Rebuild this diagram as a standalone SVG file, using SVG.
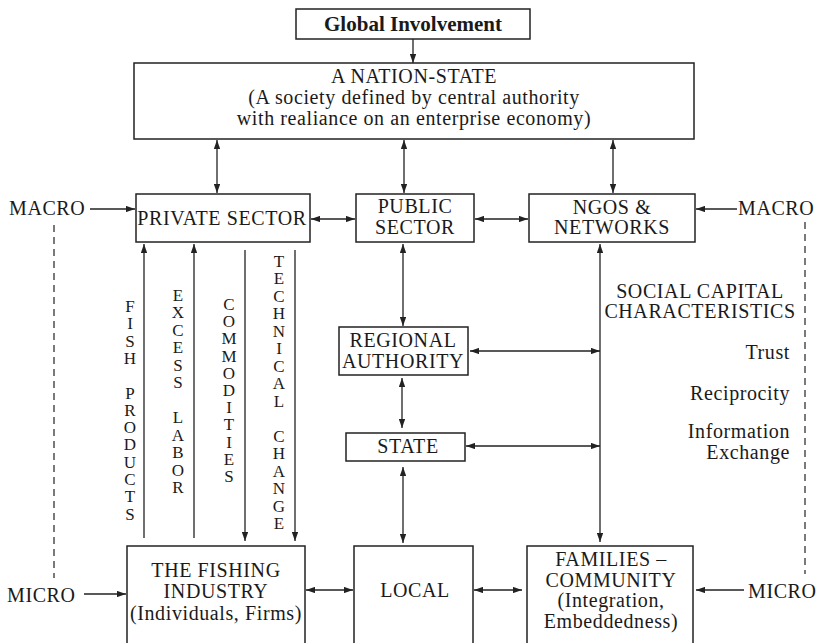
<svg xmlns="http://www.w3.org/2000/svg" width="819" height="643" viewBox="0 0 819 643">
<style>
.box{fill:#fff;stroke:#222;stroke-width:1.5}
.t{font-family:"Liberation Serif","Times New Roman",serif;font-size:20px;letter-spacing:0.6px;fill:#1a1a1a;text-anchor:middle}
.s{font-family:"Liberation Serif","Times New Roman",serif;font-size:20px;letter-spacing:0.6px;fill:#1a1a1a}
.r{text-anchor:end}
.b{font-weight:bold;font-size:21px;letter-spacing:0}
.v{font-family:"Liberation Serif","Times New Roman",serif;font-size:17px;fill:#1a1a1a;text-anchor:middle}
.c{stroke:#222;stroke-width:1.3;fill:none}
.e{marker-end:url(#ah)}
.be{marker-start:url(#ah);marker-end:url(#ah)}
.d{stroke:#222;stroke-width:1.2;stroke-dasharray:7 5;fill:none}
</style>
<defs>
<marker id="ah" viewBox="0 0 10 7" refX="10" refY="3.5" markerWidth="9" markerHeight="6.5" markerUnits="userSpaceOnUse" orient="auto-start-reverse">
<path d="M0,0 L10,3.5 L0,7 z" fill="#222"/>
</marker>
</defs>
<rect width="819" height="643" fill="#fff"/>

<g id="connectors">
<line class="c e" x1="413" y1="39" x2="413" y2="63"/>
<line class="c be" x1="217" y1="140" x2="217" y2="193"/>
<line class="c be" x1="404" y1="140" x2="404" y2="193"/>
<line class="c be" x1="613" y1="140" x2="613" y2="193"/>
<line class="c e" x1="90" y1="209" x2="135" y2="209"/>
<line class="c be" x1="311" y1="219" x2="355" y2="219"/>
<line class="c be" x1="475" y1="219" x2="528" y2="219"/>
<line class="c e" x1="737" y1="209" x2="696" y2="209"/>
<line class="c be" x1="403" y1="244" x2="403" y2="326"/>
<line class="c be" x1="402" y1="378" x2="402" y2="428"/>
<line class="c be" x1="403" y1="467" x2="403" y2="543"/>
<line class="c be" x1="470" y1="351" x2="600" y2="351"/>
<line class="c be" x1="466" y1="446" x2="600" y2="446"/>
<line class="c be" x1="600" y1="244" x2="600" y2="542"/>
<line class="c e" x1="144" y1="538" x2="144" y2="244"/>
<line class="c e" x1="194" y1="538" x2="194" y2="244"/>
<line class="c e" x1="245" y1="250" x2="245" y2="541"/>
<line class="c e" x1="295" y1="250" x2="295" y2="541"/>
<line class="c be" x1="306" y1="590" x2="353" y2="590"/>
<line class="c be" x1="474" y1="590" x2="522" y2="590"/>
<line class="c e" x1="84" y1="594" x2="126" y2="594"/>
<line class="c e" x1="744" y1="590" x2="696" y2="590"/>
<line class="d" x1="54" y1="225" x2="54" y2="578"/>
<line class="d" x1="805" y1="222" x2="805" y2="574"/>
</g>

<g id="global">
<rect class="box" x="296" y="9" width="234" height="30"/>
<text class="t b" x="413" y="31">Global Involvement</text>
</g>
<g id="nation-state">
<rect class="box" x="134" y="63" width="560" height="76"/>
<text class="t" x="414" y="83">A NATION-STATE</text>
<text class="t" x="414" y="104">(A society defined by central authority</text>
<text class="t" x="414" y="125">with realiance on an enterprise economy)</text>
</g>
<g id="private-sector">
<rect class="box" x="136" y="194" width="174" height="48"/>
<text class="t" x="222" y="225">PRIVATE SECTOR</text>
</g>
<g id="public-sector">
<rect class="box" x="356" y="194" width="118" height="48"/>
<text class="t" x="415" y="213">PUBLIC</text>
<text class="t" x="415" y="234">SECTOR</text>
</g>
<g id="ngos">
<rect class="box" x="529" y="194" width="166" height="48"/>
<text class="t" x="612" y="214">NGOS &amp;</text>
<text class="t" x="612" y="234">NETWORKS</text>
</g>
<g id="regional-authority">
<rect class="box" x="339" y="327" width="129" height="48"/>
<text class="t" x="403" y="347">REGIONAL</text>
<text class="t" x="403" y="368">AUTHORITY</text>
</g>
<g id="state">
<rect class="box" x="346" y="433" width="119" height="28"/>
<text class="t" x="408" y="453">STATE</text>
</g>
<g id="fishing-industry">
<rect class="box" x="127" y="546" width="178" height="110"/>
<text class="t" x="216" y="577">THE FISHING</text>
<text class="t" x="216" y="598">INDUSTRY</text>
<text class="t" x="216" y="620">(Individuals, Firms)</text>
</g>
<g id="local">
<rect class="box" x="354" y="546" width="119" height="110"/>
<text class="t" x="415" y="597">LOCAL</text>
</g>
<g id="families">
<rect class="box" x="527" y="546" width="166" height="110"/>
<text class="t" x="611" y="566">FAMILIES –</text>
<text class="t" x="611" y="587">COMMUNITY</text>
<text class="t" x="611" y="607">(Integration,</text>
<text class="t" x="611" y="628">Embeddedness)</text>
</g>

<g id="labels">
<text class="s" x="9" y="215">MACRO</text>
<text class="s" x="738" y="215">MACRO</text>
<text class="s" x="7" y="602">MICRO</text>
<text class="s" x="748" y="598">MICRO</text>
<text class="t" x="700" y="298">SOCIAL CAPITAL</text>
<text class="t" x="700" y="318">CHARACTERISTICS</text>
<text class="s r" x="790" y="359">Trust</text>
<text class="s r" x="790" y="400">Reciprocity</text>
<text class="s r" x="790" y="438">Information</text>
<text class="s r" x="790" y="459">Exchange</text>
</g>

<g id="flow-labels">
<text class="v" x="130" y="312"><tspan x="130">F</tspan><tspan x="130" dy="17.3">I</tspan><tspan x="130" dy="17.3">S</tspan><tspan x="130" dy="17.3">H</tspan><tspan x="130" dy="34.6">P</tspan><tspan x="130" dy="17.3">R</tspan><tspan x="130" dy="17.3">O</tspan><tspan x="130" dy="17.3">D</tspan><tspan x="130" dy="17.3">U</tspan><tspan x="130" dy="17.3">C</tspan><tspan x="130" dy="17.3">T</tspan><tspan x="130" dy="17.3">S</tspan></text>
<text class="v" x="178" y="301"><tspan x="178">E</tspan><tspan x="178" dy="17.45">X</tspan><tspan x="178" dy="17.45">C</tspan><tspan x="178" dy="17.45">E</tspan><tspan x="178" dy="17.45">S</tspan><tspan x="178" dy="17.45">S</tspan><tspan x="178" dy="34.9">L</tspan><tspan x="178" dy="17.45">A</tspan><tspan x="178" dy="17.45">B</tspan><tspan x="178" dy="17.45">O</tspan><tspan x="178" dy="17.45">R</tspan></text>
<text class="v" x="229" y="310"><tspan x="229">C</tspan><tspan x="229" dy="17.2">O</tspan><tspan x="229" dy="17.2">M</tspan><tspan x="229" dy="17.2">M</tspan><tspan x="229" dy="17.2">O</tspan><tspan x="229" dy="17.2">D</tspan><tspan x="229" dy="17.2">I</tspan><tspan x="229" dy="17.2">T</tspan><tspan x="229" dy="17.2">I</tspan><tspan x="229" dy="17.2">E</tspan><tspan x="229" dy="17.2">S</tspan></text>
<text class="v" x="279" y="267"><tspan x="279">T</tspan><tspan x="279" dy="17.47">E</tspan><tspan x="279" dy="17.47">C</tspan><tspan x="279" dy="17.47">H</tspan><tspan x="279" dy="17.47">N</tspan><tspan x="279" dy="17.47">I</tspan><tspan x="279" dy="17.47">C</tspan><tspan x="279" dy="17.47">A</tspan><tspan x="279" dy="17.47">L</tspan><tspan x="279" dy="34.94">C</tspan><tspan x="279" dy="17.47">H</tspan><tspan x="279" dy="17.47">A</tspan><tspan x="279" dy="17.47">N</tspan><tspan x="279" dy="17.47">G</tspan><tspan x="279" dy="17.47">E</tspan></text>
</g>
</svg>
